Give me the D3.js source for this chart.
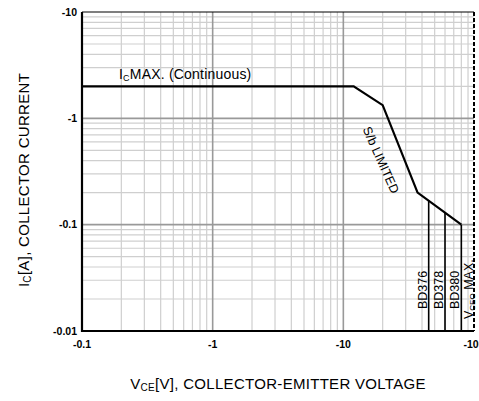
<!DOCTYPE html>
<html><head><meta charset="utf-8">
<script src="https://cdn.jsdelivr.net/npm/d3@7/dist/d3.min.js"></script>
<style>html,body{margin:0;padding:0;background:#fff;}svg{display:block;font-family:"Liberation Sans",Arial,sans-serif;}</style>
</head><body>
<svg id="c" width="479" height="401"></svg>
<script>
// Data
const xTickValues = [0.1, 1, 10, 100];
const xTickLabels = ["-0.1", "-1", "-10", "-100"];
const yTickValues = [0.01, 0.1, 1, 10];
const yTickLabels = ["-0.01", "-0.1", "-1", "-10"];
const socVoltage = [0.1, 12, 20, 37, 80];   // V
const socCurrent = [2, 2, 1.33, 0.2, 0.1];  // A
const deviceVoltage = [45, 60, 80];
const deviceNames = ["BD376", "BD378", "BD380"];

const svg = d3.select("#c");
const x = d3.scaleLog().domain([0.1, 100]).range([82, 474]);
const y = d3.scaleLog().domain([0.01, 10]).range([331, 12]);

// grid
const minor = [];
[0.1, 1, 10].forEach(d => { for (let k = 2; k <= 9; k++) minor.push(d * k); });
const minorY = [];
[0.01, 0.1, 1].forEach(d => { for (let k = 2; k <= 9; k++) minorY.push(d * k); });
const g = svg.append("g");
g.selectAll(".vx").data(minor).join("line")
  .attr("x1", d => x(d)).attr("x2", d => x(d)).attr("y1", y(10)).attr("y2", y(0.01))
  .attr("stroke", "#cfcfcf").attr("stroke-width", 1.2);
g.selectAll(".hy").data(minorY).join("line")
  .attr("y1", d => y(d)).attr("y2", d => y(d)).attr("x1", x(0.1)).attr("x2", x(100))
  .attr("stroke", "#cfcfcf").attr("stroke-width", 1.2);
g.selectAll(".vmaj").data([1, 10]).join("line")
  .attr("x1", d => x(d)).attr("x2", d => x(d)).attr("y1", y(10)).attr("y2", y(0.01))
  .attr("stroke", "#999").attr("stroke-width", 1.6);
g.selectAll(".hmaj").data([0.1, 1]).join("line")
  .attr("y1", d => y(d)).attr("y2", d => y(d)).attr("x1", x(0.1)).attr("x2", x(100))
  .attr("stroke", "#999").attr("stroke-width", 1.6);

// frame
svg.append("line").attr("x1", x(0.1)).attr("x2", x(100)).attr("y1", y(10)).attr("y2", y(10))
  .attr("stroke", "#000").attr("stroke-width", 1.2);
svg.append("line").attr("x1", x(100)).attr("x2", x(100)).attr("y1", y(10)).attr("y2", y(0.01))
  .attr("stroke", "#000").attr("stroke-width", 2).attr("stroke-dasharray", "4,2");
svg.append("line").attr("x1", x(0.1)).attr("x2", x(0.1)).attr("y1", y(10)).attr("y2", y(0.01) + 1)
  .attr("stroke", "#000").attr("stroke-width", 2.2);
svg.append("line").attr("x1", x(0.1) - 1).attr("x2", x(100)).attr("y1", y(0.01)).attr("y2", y(0.01))
  .attr("stroke", "#000").attr("stroke-width", 2.2);

// tick labels
svg.selectAll(".yl").data(yTickValues).join("text")
  .attr("x", 77).attr("y", d => y(d)).attr("dy", "0.35em").attr("text-anchor", "end")
  .attr("font-size", 10.5).attr("font-weight", "bold").text((d, i) => yTickLabels[i]);
svg.selectAll(".xl").data(xTickValues).join("text")
  .attr("x", d => x(d)).attr("y", 344).attr("dy", "0.35em").attr("text-anchor", "middle")
  .attr("font-size", 10.5).attr("font-weight", "bold").text((d, i) => xTickLabels[i]);

// SOA curve
const pts = socVoltage.map((v, i) => [v, socCurrent[i]]);
svg.append("path").datum(pts)
  .attr("d", d3.line().x(d => x(d[0])).y(d => y(d[1])))
  .attr("fill", "none").attr("stroke", "#000").attr("stroke-width", 2.2).attr("stroke-linejoin", "miter");

// device voltage lines
function curveAt(v) {
  for (let i = 0; i < pts.length - 1; i++) {
    const [v0, c0] = pts[i], [v1, c1] = pts[i + 1];
    if (v >= v0 && v <= v1) {
      const t = (Math.log(v) - Math.log(v0)) / (Math.log(v1) - Math.log(v0));
      return Math.exp(Math.log(c0) + t * (Math.log(c1) - Math.log(c0)));
    }
  }
  return pts[pts.length - 1][1];
}
svg.selectAll(".dv").data(deviceVoltage).join("line")
  .attr("x1", d => x(d)).attr("x2", d => x(d)).attr("y1", d => y(curveAt(d))).attr("y2", y(0.01))
  .attr("stroke", "#000").attr("stroke-width", 1.6);

// device labels
svg.selectAll(".dl").data(deviceVoltage).join("text")
  .attr("transform", d => `translate(${x(d) - 2},309) rotate(-90)`)
  .attr("font-size", 12.5).text((d, i) => deviceNames[i]);
const vceo = svg.append("text").attr("transform", `translate(${x(100) - 1},319) rotate(-90)`).attr("font-size", 12.5);
vceo.append("tspan").text("V");
vceo.append("tspan").attr("font-size", 8).attr("dy", 2).text("CEO");
vceo.append("tspan").attr("dy", -2).text(" MAX.");

// annotations
const ic = svg.append("text").attr("x", 119).attr("y", 79).attr("font-size", 14).attr("letter-spacing", 0.2);
ic.append("tspan").text("I");
ic.append("tspan").attr("font-size", 9).attr("dy", 2).text("C");
ic.append("tspan").attr("dy", -2).text("MAX. (Continuous)");

svg.append("text").attr("transform", "translate(381,160) rotate(66)")
  .attr("text-anchor", "middle").attr("dy", "0.35em").attr("font-size", 12.5).text("S/b LIMITED");

// axis titles
const xt = svg.append("text").attr("x", 278).attr("y", 389).attr("text-anchor", "middle").attr("font-size", 15).attr("letter-spacing", 0.3);
xt.append("tspan").text("V");
xt.append("tspan").attr("font-size", 10).attr("dy", 2).text("CE");
xt.append("tspan").attr("dy", -2).text("[V], COLLECTOR-EMITTER VOLTAGE");

const yt = svg.append("text").attr("transform", "translate(29,180) rotate(-90)").attr("text-anchor", "middle").attr("font-size", 15).attr("letter-spacing", 0.3);
yt.append("tspan").text("I");
yt.append("tspan").attr("font-size", 10).attr("dy", 2).text("C");
yt.append("tspan").attr("dy", -2).text("[A], COLLECTOR CURRENT");
</script>
</body></html>
